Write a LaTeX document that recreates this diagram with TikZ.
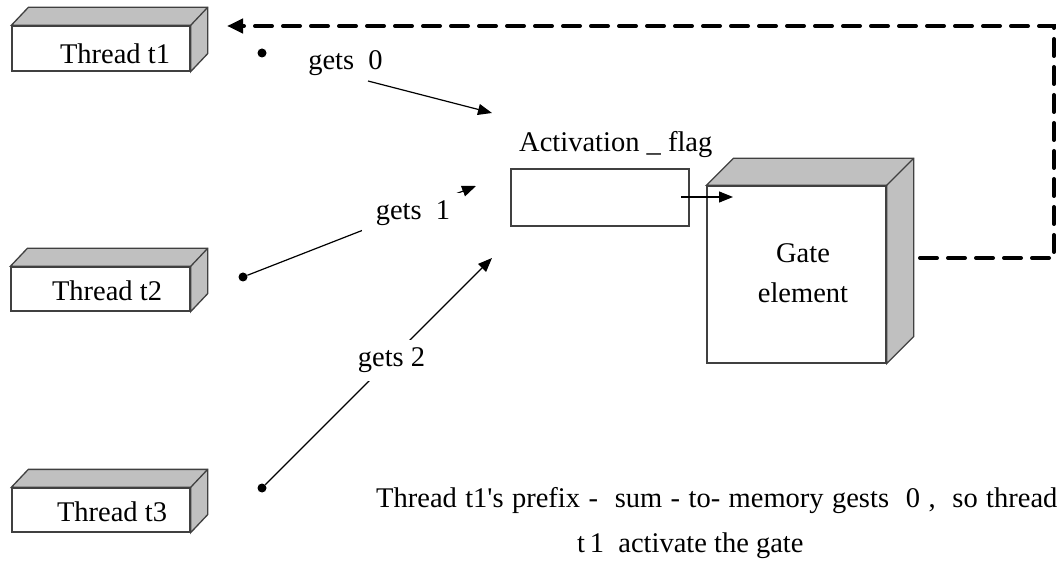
\documentclass[tikz,border=0pt]{standalone}
\usepackage{fontspec}
\setmainfont{Liberation Serif}
\usetikzlibrary{arrows.meta}

\definecolor{boxgray}{HTML}{C0C0C0}
\definecolor{edgegray}{HTML}{404040}

\tikzset{
  lbl/.style={font=\fontsize{28.5}{34}\selectfont, inner sep=0pt},
  frontface/.style={draw=edgegray, line width=1.3pt, fill=white, inner sep=0pt},
  sideface/.style={draw=edgegray, line width=1.3pt, fill=boxgray, line join=miter},
  flow/.style={line width=1.2pt, -{Triangle[length=14pt,width=11pt]}},
  feedback/.style={line width=4pt, dash pattern=on 17pt off 11pt, line cap=round,
                   -{Triangle[length=16pt,width=14pt]}},
  dotnode/.style={circle, fill=black, inner sep=0pt, minimum size=9pt},
  cover/.style={lbl, fill=white, inner xsep=14pt, inner ysep=8pt},
}

% front face node, then top and right faces raised by a depth offset
\newcommand{\cuboidsides}[3]{% node name, dx, dy (upwards)
  \filldraw[sideface] (#1.north west) -- ++(#2,-#3) -- ([xshift=#2pt,yshift=#3pt]#1.north east)
    -- ([xshift=#2pt,yshift=#3pt]#1.south east) -- (#1.south east) -- (#1.north east) -- cycle;
  \draw[edgegray, line width=1.3pt] (#1.north east) -- ++(#2,-#3);
}

\begin{document}
\begin{tikzpicture}[x=1pt,y=-1pt]
  \useasboundingbox (0,0) rectangle (1061,561);

  % thread boxes
  \node[frontface, minimum width=178pt, minimum height=45pt] (t1) at (101,48.5) {};
  \cuboidsides{t1}{17}{18}
  \node[lbl, anchor=base] (t1text) at (115,64) {Thread t1};

  \node[frontface, minimum width=179pt, minimum height=44pt] (t2) at (100.5,289) {};
  \cuboidsides{t2}{17}{18}
  \node[lbl, anchor=base] (t2text) at (107,301) {Thread t2};

  \node[frontface, minimum width=178pt, minimum height=44pt] (t3) at (101,510) {};
  \cuboidsides{t3}{17}{18}
  \node[lbl, anchor=base] (t3text) at (112,521) {Thread t3};

  % gate element
  \node[frontface, minimum width=179pt, minimum height=177pt] (gate) at (796.5,274.5) {};
  \cuboidsides{gate}{27}{27}
  \node[lbl, anchor=base] (gatetext) at (803,263) {Gate};
  \node[lbl, anchor=base] (elemtext) at (803,303) {element};

  % activation flag
  \node[draw=edgegray, line width=1.3pt, minimum width=178pt, minimum height=57pt, inner sep=0pt]
    (flag) at (600,197.5) {};
  \node[lbl, anchor=base west] (flagtext) at (519,152) {Activation \_ flag};
  \coordinate (flagout) at (681,197);
  \coordinate (gatein) at (733,197);
  \draw[flow] (flagout) -- (gatein);

  % writes from the threads
  \node[dotnode] (d0) at (262,53) {};
  \node[dotnode] (d1) at (243,277) {};
  \node[dotnode] (d2) at (262,488) {};
  \coordinate (s0) at (368,81);
  \coordinate (e0) at (492,113);
  \coordinate (e1) at (476,186);
  \coordinate (e2) at (492,258);

  \draw[flow] (s0) -- (e0);
  \node[lbl, anchor=base] (g0) at (345.5,70) {gets~~0};

  \draw[flow] (d1) -- (e1);
  \node[cover, anchor=base] (g1) at (413,220) {gets~~1};

  \draw[flow] (d2) -- (e2);
  \node[cover, anchor=base] (g2) at (391.5,367) {gets 2};

  % gate signals back to thread t1
  \coordinate (fbstart) at (920,258);
  \coordinate (fbright) at (1054,258);
  \coordinate (fbtop) at (1054,26);
  \coordinate (fbend) at (227,26);
  \draw[feedback] (fbstart) -- (fbright) -- (fbtop) -- (fbend);

  % caption
  \node[lbl, anchor=base west] (cap1) at (376,507)
    {\spaceskip=8.4pt Thread t1\textquotesingle s prefix - \ sum - to- memory gests \ 0 , \ so thread};
  \node[lbl, anchor=base west] (cap2) at (577,552) {t\,1 \ activate the gate};
\end{tikzpicture}
\end{document}
